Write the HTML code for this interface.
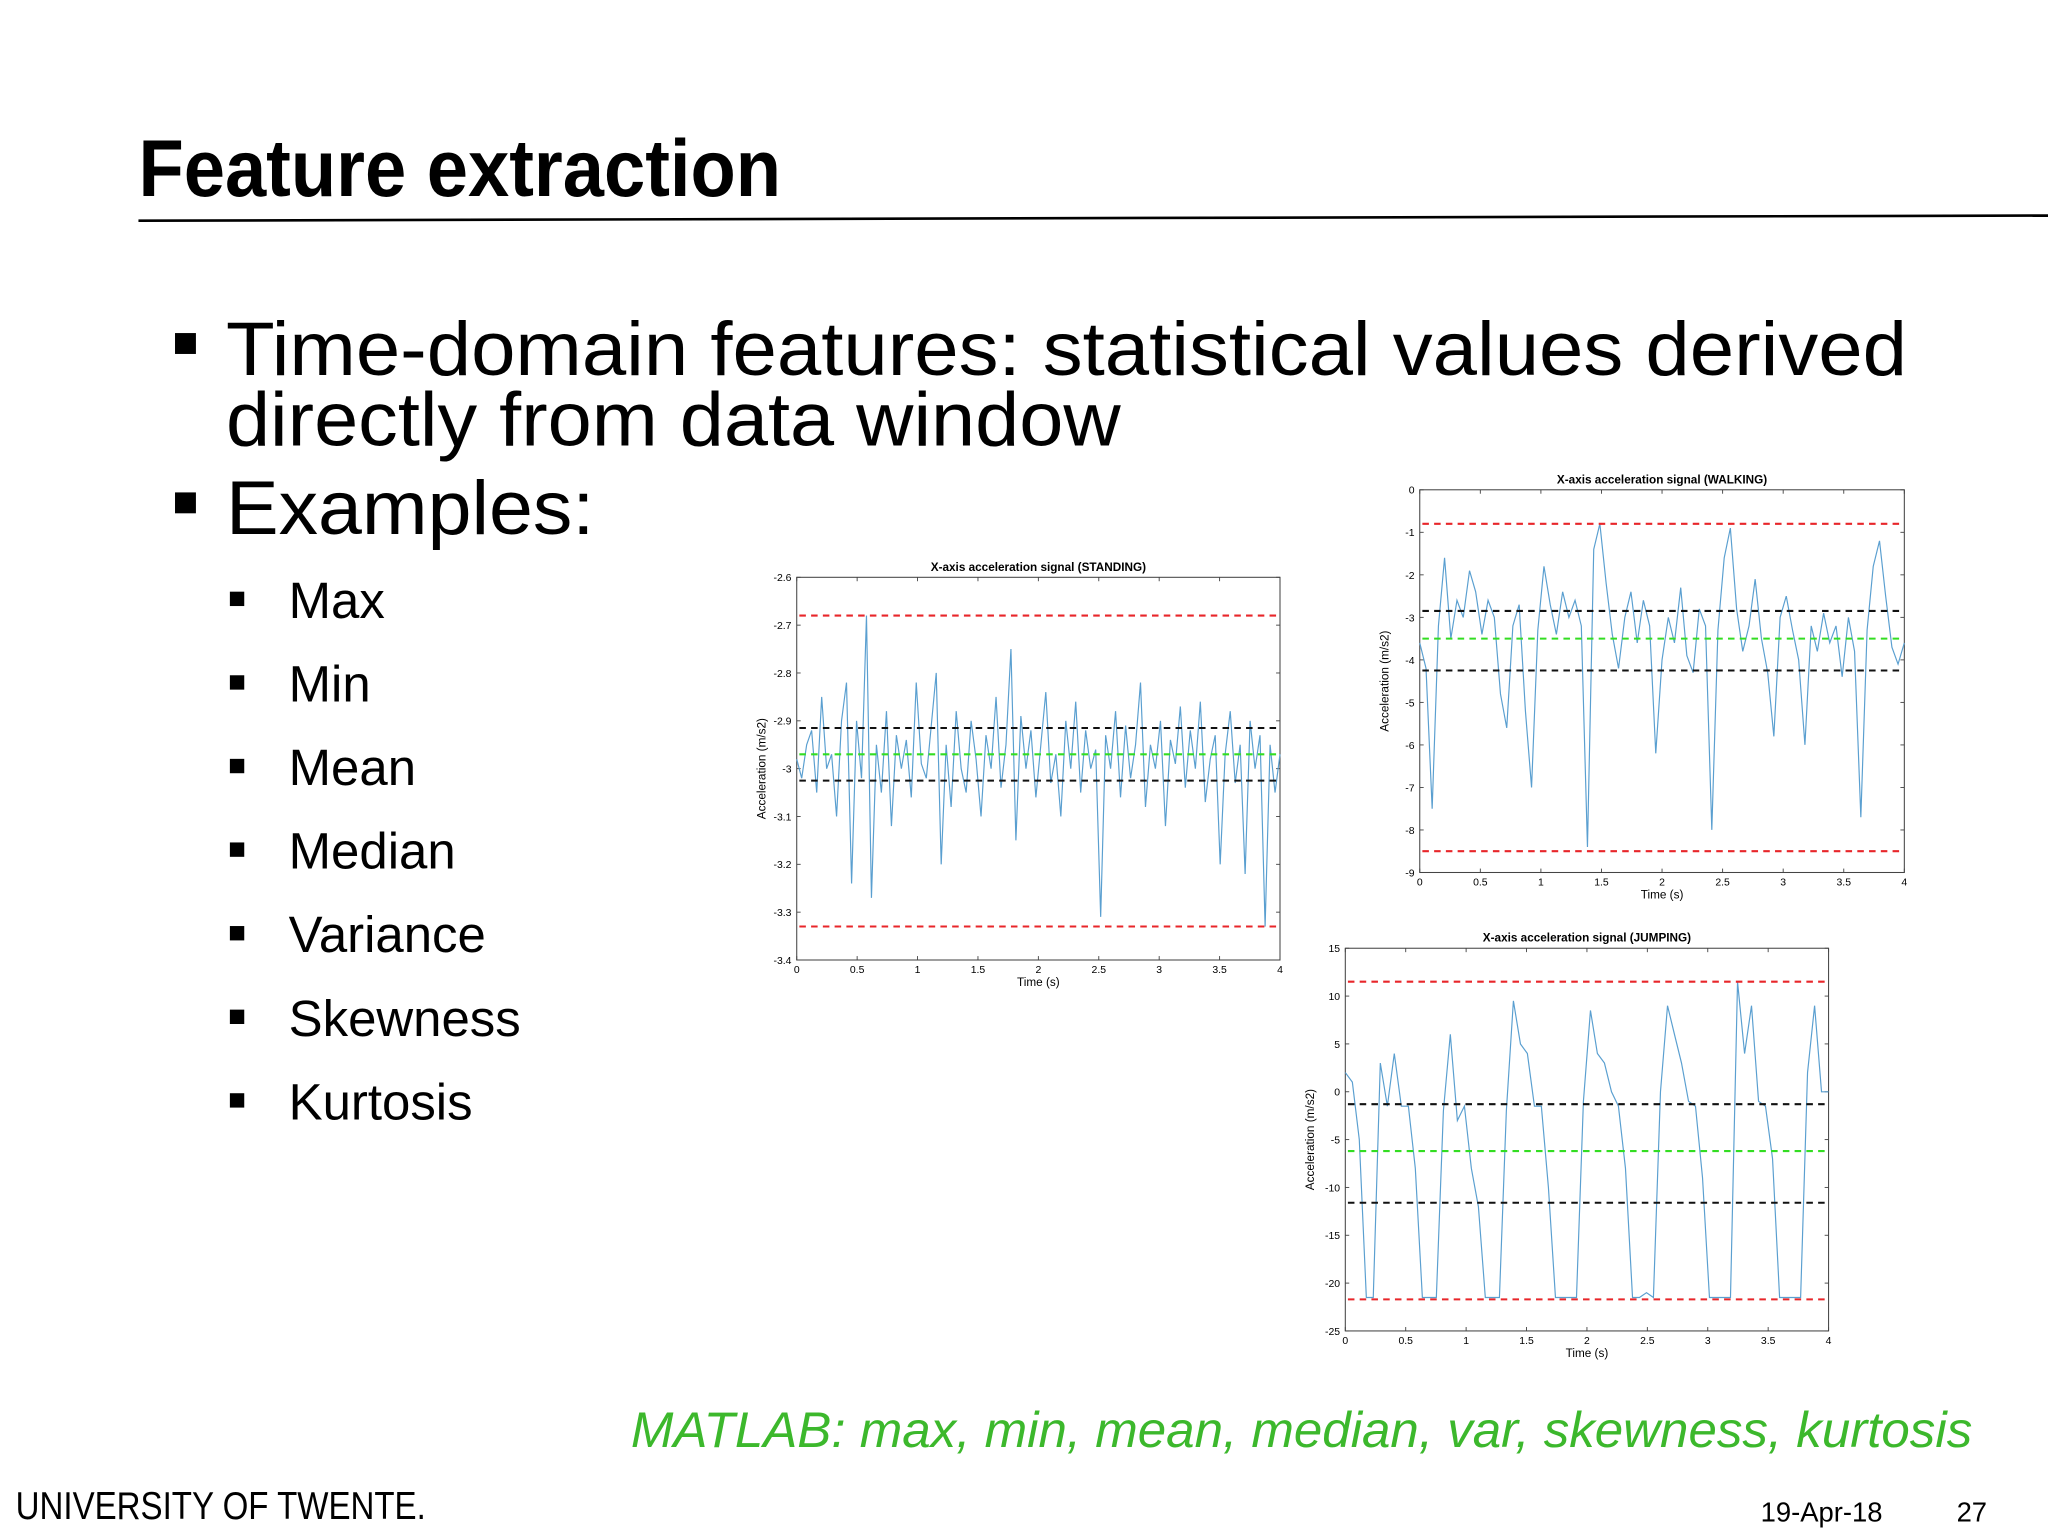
<!DOCTYPE html>
<html><head><meta charset="utf-8"><style>
html,body{margin:0;padding:0;background:#fff;}
svg{display:block;font-family:"Liberation Sans",sans-serif;}
</style></head><body>
<svg id="slide" width="2048" height="1536" viewBox="0 0 1568 1176" xmlns="http://www.w3.org/2000/svg">
<text x="106" y="150" font-size="62" font-weight="bold" textLength="492" lengthAdjust="spacingAndGlyphs">Feature extraction</text>
<line x1="106" y1="169" x2="1568" y2="165" stroke="#000" stroke-width="2"/>
<g font-size="58">
<rect x="134" y="255" width="16" height="16"/>
<text x="173" y="287" textLength="1287" lengthAdjust="spacingAndGlyphs">Time-domain features: statistical values derived</text>
<text x="173" y="341" textLength="685" lengthAdjust="spacingAndGlyphs">directly from data window</text>
<rect x="134" y="377" width="16" height="16"/>
<text x="173" y="409" textLength="282" lengthAdjust="spacingAndGlyphs">Examples:</text>
</g>
<g font-size="39">
<rect x="176" y="453" width="11" height="11"/><text x="221" y="473">Max</text>
<rect x="176" y="517" width="11" height="11"/><text x="221" y="537">Min</text>
<rect x="176" y="581" width="11" height="11"/><text x="221" y="601">Mean</text>
<rect x="176" y="645" width="11" height="11"/><text x="221" y="665">Median</text>
<rect x="176" y="709" width="11" height="11"/><text x="221" y="729">Variance</text>
<rect x="176" y="773" width="11" height="11"/><text x="221" y="793">Skewness</text>
<rect x="176" y="837" width="11" height="11"/><text x="221" y="857">Kurtosis</text>
</g>
<text x="483" y="1108" font-size="38" font-style="italic" fill="#3cb82c" textLength="1027" lengthAdjust="spacingAndGlyphs">MATLAB: max, min, mean, median, var, skewness, kurtosis</text>
<text x="12" y="1163" font-size="30" textLength="314" lengthAdjust="spacingAndGlyphs">UNIVERSITY OF TWENTE.</text>
<text x="1348" y="1165" font-size="21">19-Apr-18</text>
<text x="1498" y="1165" font-size="21">27</text>
<g id="charts"></g>
</svg>
<script>
// STANDING
const standingValues = [-2.98,-3.02,-2.95,-2.92,-3.05,-2.85,-3.0,-2.97,-3.1,-2.9,-2.82,-3.24,-2.9,-3.02,-2.68,-3.27,-2.95,-3.05,-2.88,-3.12,-2.93,-3.0,-2.94,-3.06,-2.82,-2.99,-3.02,-2.91,-2.8,-3.2,-2.95,-3.08,-2.88,-3.0,-3.05,-2.9,-2.98,-3.1,-2.93,-3.0,-2.85,-3.04,-2.95,-2.75,-3.15,-2.89,-3.0,-2.92,-3.06,-2.95,-2.84,-3.03,-2.97,-3.1,-2.9,-3.0,-2.86,-3.05,-2.92,-3.0,-2.96,-3.31,-2.93,-3.0,-2.88,-3.06,-2.91,-3.02,-2.95,-2.82,-3.08,-2.95,-3.0,-2.9,-3.12,-2.94,-2.99,-2.87,-3.04,-2.92,-3.0,-2.86,-3.07,-2.98,-2.93,-3.2,-2.97,-2.88,-3.03,-2.95,-3.22,-2.9,-3.0,-2.93,-3.33,-2.95,-3.05,-2.97];
const standingLines = {max:-2.68,min:-3.33,mean:-2.97,hi:-2.915,lo:-3.025};
const standingYTicks = [-2.6,-2.7,-2.8,-2.9,-3,-3.1,-3.2,-3.3,-3.4];
// WALKING
const walkingValues = [-3.6,-4.2,-7.5,-3.2,-1.6,-3.5,-2.6,-3.0,-1.9,-2.4,-3.4,-2.6,-3.0,-4.8,-5.6,-3.2,-2.7,-5.2,-7.0,-3.3,-1.8,-2.7,-3.4,-2.4,-3.0,-2.6,-3.2,-8.4,-1.4,-0.8,-2.2,-3.4,-4.2,-3.0,-2.4,-3.6,-2.6,-3.2,-6.2,-4.0,-3.0,-3.6,-2.3,-3.9,-4.3,-2.8,-3.2,-8.0,-3.3,-1.6,-0.9,-2.8,-3.8,-3.2,-2.1,-3.5,-4.3,-5.8,-3.0,-2.5,-3.3,-4.0,-6.0,-3.2,-3.8,-2.9,-3.6,-3.2,-4.4,-3.0,-3.8,-7.7,-3.3,-1.8,-1.2,-2.5,-3.7,-4.1,-3.6];
const walkingLines = {max:-0.8,min:-8.5,mean:-3.5,hi:-2.85,lo:-4.25};
const walkingYTicks = [0,-1,-2,-3,-4,-5,-6,-7,-8,-9];
// JUMPING
const jumpingValues = [2,1,-5,-21.5,-21.5,3,-1.5,4,-1.5,-1.5,-8,-21.5,-21.5,-21.5,-2,6,-3,-1.5,-8,-12,-21.5,-21.5,-21.5,-2,9.5,5,4,-1.5,-1.5,-10,-21.5,-21.5,-21.5,-21.5,-1,8.5,4,3,0,-1.5,-8,-21.5,-21.5,-21,-21.5,0,9,6,3,-1,-1.5,-9,-21.5,-21.5,-21.5,-21.5,11.5,4,9,-1,-1.5,-7,-21.5,-21.5,-21.5,-21.5,2,9,0,0];
const jumpingLines = {max:11.5,min:-21.7,mean:-6.2,hi:-1.3,lo:-11.6};
const jumpingYTicks = [15,10,5,0,-5,-10,-15,-20,-25];
const xTicks = [0,0.5,1,1.5,2,2.5,3,3.5,4];

const NS="http://www.w3.org/2000/svg";
const root=document.getElementById('charts');
function mk(tag,attrs,parent){const e=document.createElementNS(NS,tag);for(const k in attrs)e.setAttribute(k,attrs[k]);parent.appendChild(e);return e;}
function chart(name,title,box,yTicks,values,lines){
  const g=mk('g',{},root);
  
  
  const x0=box.x,x1=box.x+box.w,y0=box.y,y1=box.y+box.h;
  const ymax=yTicks[0],ymin=yTicks[yTicks.length-1];
  const sx=t=>x0+t/4*(x1-x0), sy=v=>y0+(ymax-v)/(ymax-ymin)*(y1-y0);
  const fr=mk('rect',{x:x0,y:y0,width:box.w,height:box.h,fill:'#fff',stroke:'#444','stroke-width':0.8},g);
  
  
  const tt=mk('text',{x:(x0+x1)/2,y:y0-5,'text-anchor':'middle','font-size':9,'font-weight':'bold'},g);tt.textContent=title;
  
  
  xTicks.forEach(t=>{const x=sx(t);mk('line',{x1:x,x2:x,y1:y1,y2:y1-3,stroke:'#444','stroke-width':0.7},g);mk('line',{x1:x,x2:x,y1:y0,y2:y0+3,stroke:'#444','stroke-width':0.7},g);
    const l=mk('text',{x:x,y:y1+10,'text-anchor':'middle','font-size':8},g);l.textContent=t;
    
    });
  yTicks.forEach(v=>{const y=sy(v);mk('line',{x1:x0,x2:x0+3,y1:y,y2:y,stroke:'#444','stroke-width':0.7},g);mk('line',{x1:x1,x2:x1-3,y1:y,y2:y,stroke:'#444','stroke-width':0.7},g);
    const l=mk('text',{x:x0-4,y:y+3,'text-anchor':'end','font-size':8},g);l.textContent=v;
    
    });
  const xl=mk('text',{x:(x0+x1)/2,y:y1+20,'text-anchor':'middle','font-size':9},g);xl.textContent='Time (s)';
  
  
  const yl=mk('text',{x:0,y:0,'text-anchor':'middle','font-size':9,transform:`translate(${x0-24},${(y0+y1)/2}) rotate(-90)`},g);yl.textContent='Acceleration (m/s2)';
  
  
  const pts=values.map((v,i)=>sx(i/(values.length-1)*4).toFixed(1)+','+sy(v).toFixed(1)).join(' ');
  const sig=mk('polyline',{points:pts,fill:'none',stroke:'#5a9fd0','stroke-width':0.9},g);
  
  
  [['max','#e8262a'],['min','#e8262a'],['hi','#111'],['lo','#111'],['mean','#33dd22']].forEach(([k,c])=>{
    const y=sy(lines[k]);const l=mk('line',{x1:x0+2,x2:x1-2,y1:y,y2:y,stroke:c,'stroke-width':1.6,'stroke-dasharray':'5,4'},g);
    
    });
}
chart('standing-chart','X-axis acceleration signal (STANDING)',{x:610,y:442,w:370,h:293},standingYTicks,standingValues,standingLines);
chart('walking-chart','X-axis acceleration signal (WALKING)',{x:1087,y:375,w:371,h:293},walkingYTicks,walkingValues,walkingLines);
chart('jumping-chart','X-axis acceleration signal (JUMPING)',{x:1030,y:726,w:370,h:293},jumpingYTicks,jumpingValues,jumpingLines);
</script>
</body></html>
